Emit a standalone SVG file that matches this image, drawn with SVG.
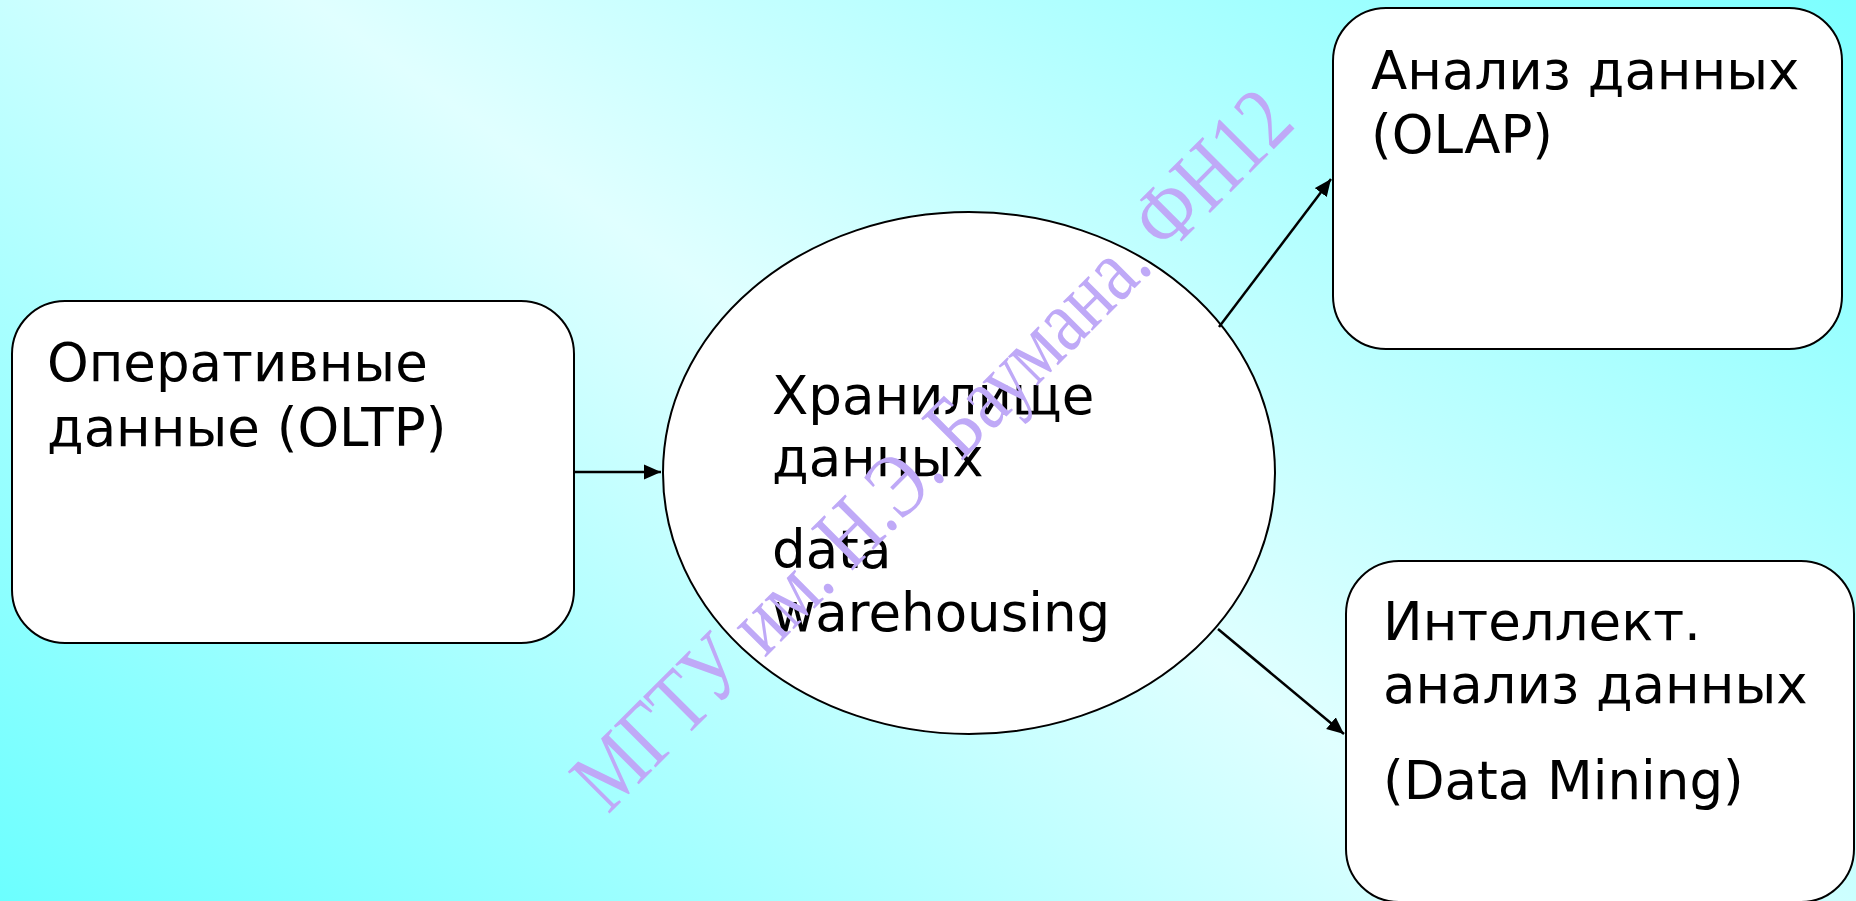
<svg xmlns="http://www.w3.org/2000/svg" width="1856" height="901" viewBox="0 0 1856 901">
<defs>
<linearGradient id="bg" gradientUnits="userSpaceOnUse" x1="0" y1="901" x2="1072" y2="-571">
<stop offset="0" stop-color="#6cffff"/>
<stop offset="0.5" stop-color="#e0ffff"/>
<stop offset="1" stop-color="#7cffff"/>
</linearGradient>
<marker id="arr" markerUnits="userSpaceOnUse" markerWidth="18" markerHeight="16" refX="17" refY="8" orient="auto">
<path d="M0,0.5 L17,8 L0,15.5 Z" fill="#000"/>
</marker>
<style>
.node{fill:#fff;stroke:#000;stroke-width:2}
.lbl{font-family:"DejaVu Sans",Verdana,sans-serif;font-size:53px;fill:#000}
.edge{stroke:#000;stroke-width:2.5;fill:none;marker-end:url(#arr)}
.wm{font-family:"Liberation Serif","Times New Roman",serif;font-size:90px;fill:#bfa9f7}
</style>
</defs>
<rect width="1856" height="901" fill="url(#bg)"/>
<g id="oltp">
<rect class="node" x="12" y="301" width="562" height="342" rx="53" ry="53"/>
<text class="lbl"><tspan x="47" y="381">Оперативные</tspan><tspan x="47" y="446">данные (OLTP)</tspan></text>
</g>
<g id="dw">
<ellipse class="node" cx="969" cy="473" rx="306" ry="261"/>
<text class="lbl"><tspan x="772" y="414">Хранилище</tspan><tspan x="772" y="476">данных</tspan><tspan x="772" y="568">data</tspan><tspan x="772" y="631">warehousing</tspan></text>
</g>
<g id="olap">
<rect class="node" x="1333" y="8" width="509" height="341" rx="53" ry="53"/>
<text class="lbl"><tspan x="1371" y="89">Анализ данных</tspan><tspan x="1371" y="153">(OLAP)</tspan></text>
</g>
<g id="dm">
<rect class="node" x="1346" y="561" width="508" height="341" rx="53" ry="53"/>
<text class="lbl"><tspan x="1383" y="640">Интеллект.</tspan><tspan x="1383" y="703">анализ данных</tspan><tspan x="1383" y="799">(Data Mining)</tspan></text>
</g>
<g id="connectors">
<line class="edge" x1="574" y1="472" x2="661" y2="472"/>
<line class="edge" x1="1219" y1="327" x2="1331" y2="179"/>
<line class="edge" x1="1218" y1="629" x2="1344" y2="734"/>
</g>
<g id="watermark">
<text class="wm" transform="translate(608,815) rotate(-45)" x="0" y="0" textLength="975" lengthAdjust="spacingAndGlyphs">МГТУ им. Н.Э. Баумана. ФН12</text>
</g>
</svg>
